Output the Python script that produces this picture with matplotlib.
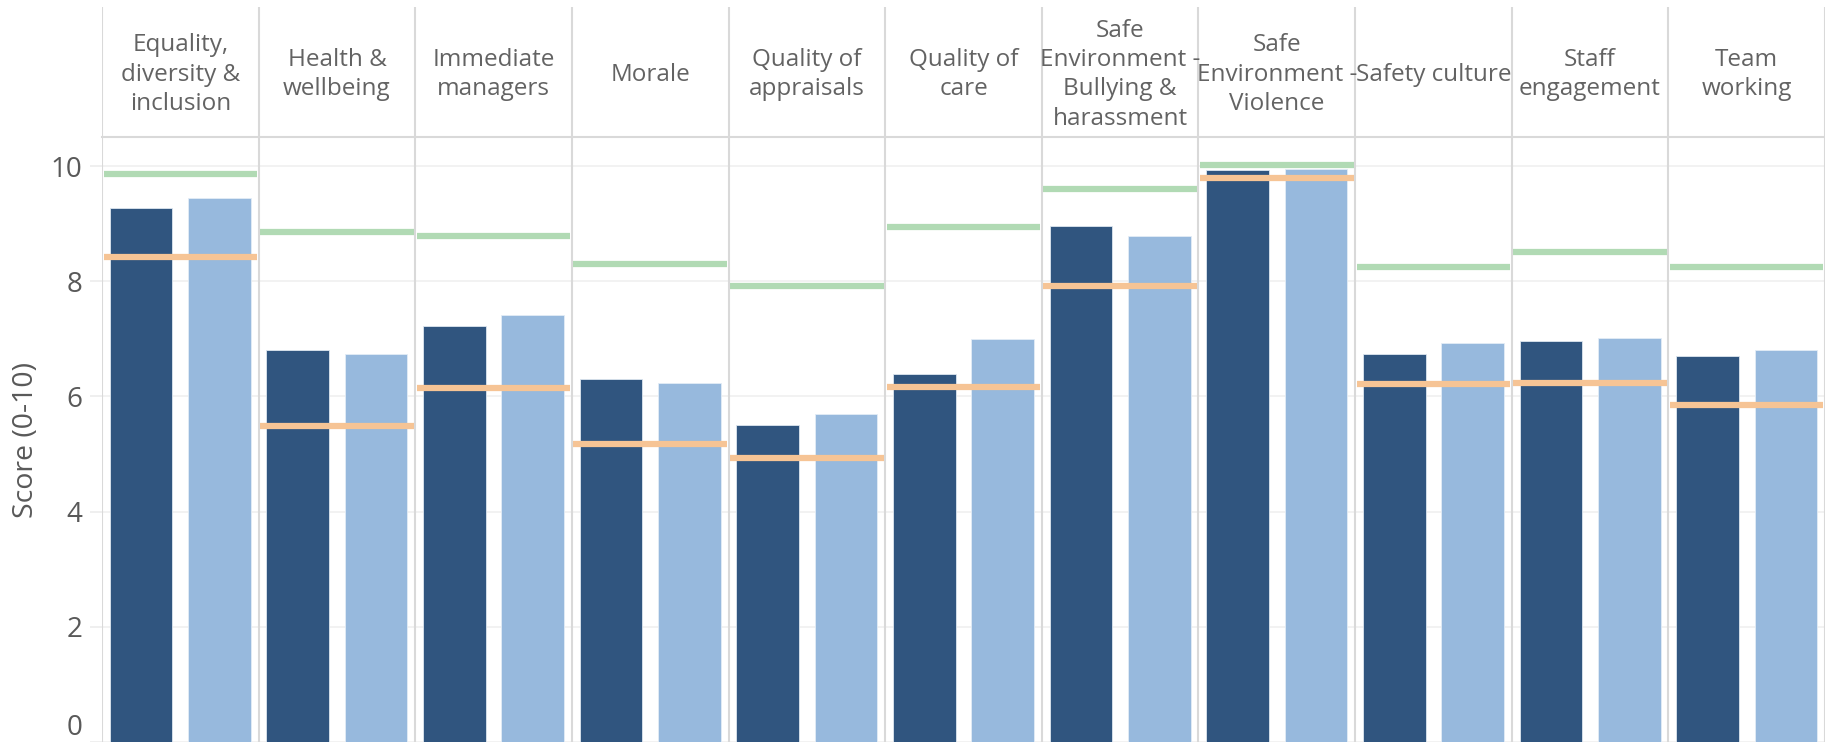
import matplotlib
matplotlib.use("Agg")
import matplotlib.pyplot as plt
import numpy as np

plt.rcParams["font.family"] = ["Open Sans", "DejaVu Sans"]

# categories shown in the header strip
categories = [
    "Equality,\ndiversity &\ninclusion",
    "Health &\nwellbeing",
    "Immediate\nmanagers",
    "Morale",
    "Quality of\nappraisals",
    "Quality of\ncare",
    "Safe\nEnvironment -\nBullying &\nharassment",
    "Safe\nEnvironment -\nViolence",
    "Safety culture",
    "Staff\nengagement",
    "Team\nworking",
]

# scores (0-10)
score_dark = [9.28, 6.80, 7.22, 6.30, 5.50, 6.39, 8.96, 9.94, 6.74, 6.97, 6.71]
score_light = [9.44, 6.74, 7.41, 6.23, 5.69, 7.00, 8.78, 9.95, 6.93, 7.02, 6.80]
best = [9.86, 8.85, 8.78, 8.30, 7.92, 8.94, 9.61, 10.02, 8.24, 8.50, 8.24]
worst = [8.43, 5.48, 6.15, 5.17, 4.94, 6.17, 7.92, 9.80, 6.21, 6.24, 5.86]
yticks = [0, 2, 4, 6, 8, 10]

DARK = "#30557f"
LIGHT = "#97b9dd"
GREEN = "#b1dab4"
ORANGE = "#f6c495"
SEP = "#d9d9d9"
TEXT = "#595959"

W, H = 1825, 742
fig = plt.figure(figsize=(W / 100, H / 100), dpi=100)

left = 102 / W
main_top = 1 - 137.3 / H
head_top = 1 - 6.7 / H

ax = fig.add_axes([left, 0, 1 - left, main_top])
axh = fig.add_axes([left, main_top, 1 - left, head_top - main_top])

n = len(categories)
x = np.arange(n)

ax.bar(x + 0.25, score_dark, width=0.4, color=DARK, edgecolor="#dde6f0", linewidth=0.6, zorder=2)
ax.bar(x + 0.75, score_light, width=0.4, color=LIGHT, edgecolor="#e3ecf6", linewidth=0.6, zorder=2)
ax.hlines(best, x + 0.01, x + 0.99, color=GREEN, linewidth=4.5, zorder=3, capstyle="butt")
ax.hlines(worst, x + 0.01, x + 0.99, color=ORANGE, linewidth=4.5, zorder=3, capstyle="butt")

for xi in range(n + 1):
    ax.axvline(xi, color=SEP, linewidth=1.5, zorder=4)
    axh.axvline(xi, color=SEP, linewidth=1.5)

ax.set_xlim(0, n)
ax.set_ylim(0, 10.5)
ax.set_xticks([])
ax.set_yticks(yticks)
ax.set_yticklabels([str(t) for t in yticks])
ax.grid(axis="y", color="#f0f0f0", linewidth=1.2, zorder=0)
ax.tick_params(axis="y", length=9, width=1.2, color="#ececec", labelsize=20, labelcolor=TEXT, pad=5)
ax.get_yticklabels()[0].set_verticalalignment("bottom")
for s in ["left", "right", "bottom"]:
    ax.spines[s].set_visible(False)
ax.spines["top"].set_color(SEP)
ax.spines["top"].set_linewidth(1.5)
ax.set_ylabel("Score (0-10)", fontsize=20.5, color=TEXT, labelpad=8)

axh.set_xlim(0, n)
axh.set_ylim(0, 1)
axh.axis("off")
for i, c in enumerate(categories):
    axh.text(i + 0.5, 0.48, c, ha="center", va="center", fontsize=17.5, color="#636363", linespacing=1.3)

fig.savefig("out.png", dpi=100)
